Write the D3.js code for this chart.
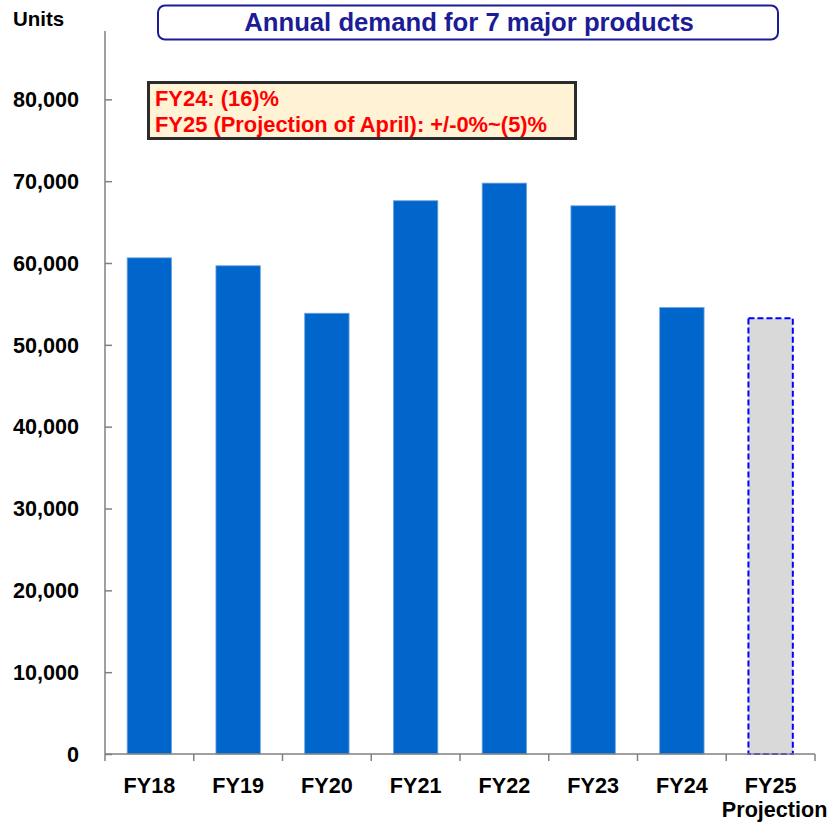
<!DOCTYPE html>
<html><head><meta charset="utf-8">
<script src="https://cdn.jsdelivr.net/npm/d3@7/dist/d3.min.js"></script>
<style>body{margin:0;background:#fff}svg{display:block;font-family:Arial,"Liberation Sans",sans-serif}</style>
</head><body>
<script>
const categories = ["FY18","FY19","FY20","FY21","FY22","FY23","FY24","FY25"];
const subLabels = ["","","","","","","","Projection"];
const values = [60630, 59660, 53860, 67610, 69760, 66990, 54560, 53250];
const projected = [false,false,false,false,false,false,false,true];
const yTicks = [0,10000,20000,30000,40000,50000,60000,70000,80000];
const titleText = "Annual demand for 7 major products";
const noteLines = ["FY24: (16)%","FY25 (Projection of April): +/-0%~(5)%"];
const unitLabel = "Units";

const W = 828, H = 824;
const svg = d3.select("body").append("svg").attr("width", W).attr("height", H);
const x0 = 105, x1 = 815, yBase = 754, yTop = 31;
const x = d3.scaleBand().domain(categories).range([x0, x1]).paddingInner(0.5).paddingOuter(0.25);
const y = d3.scaleLinear().domain([0, 88350]).range([yBase, yTop]);

// bars
svg.selectAll("rect.bar").data(categories).enter().append("rect")
  .attr("x", d => x(d)).attr("width", x.bandwidth())
  .attr("y", (d,i) => y(values[i])).attr("height", (d,i) => yBase - y(values[i]))
  .attr("fill", (d,i) => projected[i] ? "#D9D9D9" : "#0066CC")
  .attr("stroke", (d,i) => projected[i] ? "#0000FF" : "#6FA3DC")
  .attr("stroke-width", (d,i) => projected[i] ? 2 : 0.8)
  .attr("stroke-dasharray", (d,i) => projected[i] ? "6,3" : null);

// y axis
const yAxis = svg.append("g").attr("transform", `translate(${x0},0)`)
  .call(d3.axisRight(y).tickValues(yTicks).tickSize(7).tickFormat(""));
yAxis.select(".domain").remove();
yAxis.selectAll(".tick line").attr("stroke", "#808080").attr("stroke-width", 1.5);
svg.append("line").attr("x1", x0).attr("x2", x0).attr("y1", yTop).attr("y2", yBase)
  .attr("stroke", "#808080").attr("stroke-width", 1.5);
svg.append("g").selectAll("text").data(yTicks).enter().append("text")
  .attr("x", 79).attr("y", d => y(d)).attr("dy", "0.36em").attr("text-anchor", "end")
  .attr("font-size", 21.6).attr("font-weight", "bold").attr("fill", "#000")
  .text(d => d3.format(",")(d));

// x axis
const bounds = categories.map(c => x(c) - x.step()*x.paddingInner()/2).concat([x1]);
svg.append("line").attr("x1", x0).attr("x2", x1).attr("y1", yBase).attr("y2", yBase)
  .attr("stroke", "#808080").attr("stroke-width", 1.5);
svg.append("g").selectAll("line").data(bounds).enter().append("line")
  .attr("x1", d => d).attr("x2", d => d).attr("y1", yBase).attr("y2", yBase + 7)
  .attr("stroke", "#808080").attr("stroke-width", 1.5);
const xl = svg.append("g").selectAll("text").data(categories).enter().append("text")
  .attr("x", d => x(d) + x.bandwidth()/2).attr("y", 793)
  .attr("text-anchor", "middle").attr("font-size", 21.6).attr("font-weight", "bold").attr("fill", "#000");
xl.append("tspan").text(d => d);
xl.append("tspan").attr("x", (d) => x(d) + x.bandwidth()/2 + 4).attr("dy", 24)
  .text((d,i) => subLabels[i]);

// units
svg.append("text").attr("x", 13).attr("y", 26).attr("font-size", 20.5).attr("font-weight", "bold")
  .attr("fill", "#000").text(unitLabel);

// title box
svg.append("rect").attr("x", 158).attr("y", 5.5).attr("width", 620).attr("height", 34)
  .attr("rx", 7).attr("fill", "#fff").attr("stroke", "#1C1C96").attr("stroke-width", 2);
svg.append("text").attr("x", 469).attr("y", 31).attr("text-anchor", "middle")
  .attr("font-size", 25.7).attr("font-weight", "bold").attr("fill", "#1C1C96").text(titleText);

// note box
svg.append("rect").attr("x", 148.5).attr("y", 82.5).attr("width", 427).attr("height", 56)
  .attr("fill", "#FFF2D5").attr("stroke", "#2B2B2B").attr("stroke-width", 3);
svg.append("g").selectAll("text").data(noteLines).enter().append("text")
  .attr("x", 155).attr("y", (d,i) => 106 + i*26)
  .attr("font-size", 21.9).attr("font-weight", "bold").attr("fill", "#FF0000").text(d => d);
</script>
</body></html>
